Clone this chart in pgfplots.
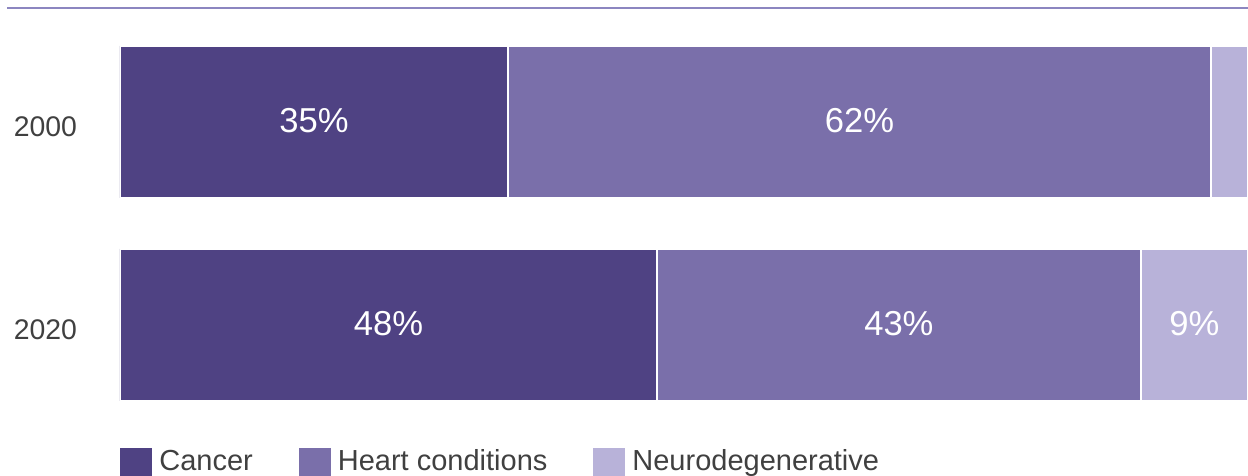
\documentclass[border=0pt]{standalone}
\usepackage{pgfplots}
\pgfplotsset{compat=1.18}
\usepackage{fontspec}
\setmainfont{Liberation Sans}
\definecolor{cancer}{HTML}{4F4283}
\definecolor{heart}{HTML}{7A6FAA}
\definecolor{neuro}{HTML}{B8B2D9}
\definecolor{toprule}{HTML}{8C86C0}
\definecolor{txt}{HTML}{404040}
\newcommand{\sz}{\fontsize{14.2}{16}\selectfont}
\newcommand{\lsz}{\fontsize{14.5}{16}\selectfont}
\newcommand{\bsz}{\fontsize{17.3}{19}\selectfont}
\begin{document}
\begin{tikzpicture}[x=1pt,y=1pt]
\useasboundingbox (0,0) rectangle (624,238);
\draw[toprule, line width=1.2pt] (3.5,234) -- (624,234);
\begin{axis}[
  at={(60pt,24.75pt)}, anchor=south west,
  scale only axis, width=564pt, height=203pt,
  xbar stacked, bar width=76pt,
  xmin=0, xmax=100, ymin=-0.5, ymax=1.5,
  axis line style={draw=none},
  xtick=\empty,
  ytick={0,1}, yticklabels={2020,2000},
  major tick length=0pt,
  yticklabel style={font=\sz, text=txt, anchor=east, xshift=-18pt, yshift=-2.5pt},
  legend columns=-1,
  legend style={at={(0,-0.0456)}, anchor=north west, draw=none, fill=none,
    inner sep=0pt, font=\lsz, text=txt,
    /tikz/every odd column/.append style={column sep=1.5pt},
    /tikz/every even column/.append style={column sep=21pt}},
  sq/.style={fill=#1, draw=white, line width=1pt,
    legend image code/.code={\fill[#1] (0pt,-8pt) rectangle (15pt,6pt);}},
  nodes near coords, point meta=explicit symbolic,
  nodes near coords style={font=\bsz, text=white, anchor=center, yshift=0.75pt},
]
\addplot[sq=cancer] coordinates {(34.4,1)[35\%] (47.6,0)[48\%]};
\addlegendentry{Cancer}
\addplot[sq=heart] coordinates {(62.3,1)[62\%] (42.9,0)[43\%]};
\addlegendentry{Heart conditions}
\addplot[sq=neuro] coordinates {(3.3,1)[] (9.5,0)[9\%]};
\addlegendentry{Neurodegenerative}
\end{axis}
\end{tikzpicture}
\end{document}
